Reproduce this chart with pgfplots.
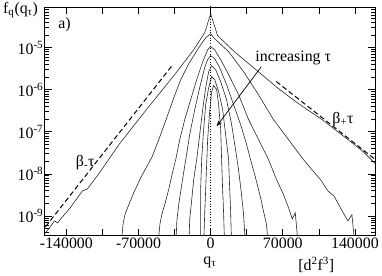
\documentclass[border=0pt]{standalone}
\usepackage{fontspec}
\setmainfont{Liberation Serif}
\usepackage{pgfplots}
\pgfplotsset{compat=1.18}
\usetikzlibrary{arrows.meta}
\begin{document}
\begin{tikzpicture}[font=\fontsize{16}{19}\selectfont]
\begin{axis}[
  name=ax,
  scale only axis, width=332bp, height=230bp,
  xmin=-161000, xmax=159500,
  ymode=log, ymin=3.37e-10, ymax=9.3e-5,
  scaled x ticks=false,
  xtick={-140000,-105000,-70000,-35000,0,35000,70000,105000,140000},
  xticklabels={-140000,,-70000,,0,,70000,,140000},
  ytick={1e-9,1e-8,1e-7,1e-6,1e-5},
  yticklabels={10\textsuperscript{-9},10\textsuperscript{-8},10\textsuperscript{-7},10\textsuperscript{-6},10\textsuperscript{-5}},
  minor ytick={4e-10,5e-10,6e-10,7e-10,8e-10,9e-10,
    2e-9,3e-9,4e-9,5e-9,6e-9,7e-9,8e-9,9e-9,
    2e-8,3e-8,4e-8,5e-8,6e-8,7e-8,8e-8,9e-8,
    2e-7,3e-7,4e-7,5e-7,6e-7,7e-7,8e-7,9e-7,
    2e-6,3e-6,4e-6,5e-6,6e-6,7e-6,8e-6,9e-6,
    2e-5,3e-5,4e-5,5e-5,6e-5,7e-5,8e-5,9e-5},
  tick align=inside,
  major tick length=7bp, minor tick length=4bp,
  axis line style={line width=0.8bp},
  every tick/.style={black, line width=0.6bp},
  clip mode=individual,
  xlabel={q\textsubscript{τ}},
  xlabel style={yshift=-1bp},
  xticklabel style={yshift=1bp},
  yticklabel style={xshift=2bp},
]
% outermost curve
\addplot[black!85, line width=0.6bp] coordinates {
(-163000,3.6e-10) (-160300,3.96e-10) (-156400,5.20e-10) (-151600,7.62e-10) (-148700,6.82e-10) (-143900,9.46e-10) (-137100,1.47e-9) (-129400,2.67e-9) (-124500,3.91e-9) (-119700,4.36e-9) (-108100,1.04e-8) (-88800,5.06e-8) (-59900,4.01e-7) (-35700,2.17e-6) (-16400,8.97e-6) (-5800,2.26e-5) (0,6.38e-5) (6800,1.92e-5) (24100,7.62e-6) (41500,3.37e-6) (65700,1.07e-6) (85000,4.72e-7) (109100,1.87e-7) (130300,7.41e-8) (147700,3.45e-8) (159300,1.79e-8) (162000,1.5e-8)};
\addplot[black!85, line width=0.6bp] coordinates {
(-86900,2e-10) (-85000,6.47e-10) (-83000,1.11e-9) (-79200,1.92e-9) (-74300,3.70e-9) (-67600,8.38e-9) (-57000,2.49e-8) (-50200,6.64e-8) (-42500,2.20e-7) (-35700,6.55e-7) (-29000,1.75e-6) (-21200,4.18e-6) (-11600,1.0e-5) (-4800,1.73e-5) (0,2.14e-5) (3900,1.63e-5) (17400,8.04e-6) (31900,2.70e-6) (46300,7.71e-7) (60800,1.98e-7) (75300,6.64e-8) (89800,2.23e-8) (99400,1.16e-8) (106200,7.52e-9) (113900,3.91e-9) (119700,2.97e-9) (126500,1.47e-9) (133200,7.62e-10) (137100,1.06e-9) (140000,2e-10)};
\addplot[black!85, line width=0.6bp] coordinates {
(-51200,2e-10) (-49200,6.47e-10) (-47300,1.11e-9) (-44400,1.92e-9) (-40600,4.36e-9) (-36700,1.16e-8) (-33800,2.23e-8) (-29900,6.64e-8) (-25100,1.98e-7) (-19300,5.87e-7) (-13500,1.75e-6) (-7700,4.67e-6) (-2900,8.97e-6) (0,1.06e-5) (3900,8.97e-6) (9700,5.20e-6) (17400,2.30e-6) (27000,7.71e-7) (36700,1.98e-7) (46300,6.64e-8) (56000,2.23e-8) (63700,7.52e-9) (70500,3.32e-9) (75300,1.63e-9) (79200,8.49e-10) (82100,1.18e-9) (85000,2e-10)};
\addplot[black!85, line width=0.6bp] coordinates {
(-33800,2e-10) (-32800,7.62e-10) (-30900,1.92e-9) (-28000,5.71e-9) (-24100,2.23e-8) (-20300,8.73e-8) (-15400,3.40e-7) (-10600,1.13e-6) (-5800,3.37e-6) (-2900,5.20e-6) (0,6.47e-6) (3900,5.50e-6) (8700,3.37e-6) (15400,1.33e-6) (22200,4.48e-7) (29000,1.50e-7) (34800,5.06e-8) (38600,2.23e-8) (43400,8.38e-9) (48300,2.82e-9) (51200,1.31e-9) (54100,6.47e-10) (56000,2e-10)};
\addplot[black!85, line width=0.6bp] coordinates {
(-21200,2e-10) (-20300,8.49e-10) (-18300,2.52e-9) (-16400,7.52e-9) (-13500,2.23e-8) (-10600,8.73e-8) (-7700,3.40e-7) (-4800,1.13e-6) (-1900,2.70e-6) (1000,3.75e-6) (4800,3.01e-6) (9700,1.57e-6) (15400,5.87e-7) (20300,1.50e-7) (24100,3.85e-8) (27000,1.29e-8) (29900,3.32e-9) (31900,1.11e-9) (33800,2e-10)};
\addplot[black!85, line width=0.6bp] coordinates {
(-9700,2e-10) (-9700,1.11e-9) (-9700,4.36e-9) (-8700,2.23e-8) (-6800,1.15e-7) (-4800,4.48e-7) (-1900,1.13e-6) (1000,2.06e-6) (3900,1.75e-6) (7700,9.08e-7) (11600,3.40e-7) (14500,8.73e-8) (17400,2.23e-8) (18300,5.71e-9) (19300,1.47e-9) (20300,2e-10)};
\addplot[black!85, line width=0.6bp] coordinates {
(-6800,2e-10) (-5800,1.11e-9) (-4800,4.36e-9) (-3900,1.70e-8) (-2900,6.64e-8) (-1000,3.05e-7) (1000,9.08e-7) (2900,1.26e-6) (5800,1.01e-6) (7700,4.48e-7) (9700,1.15e-7) (10600,2.23e-8) (11600,4.36e-9) (12600,1.11e-9) (13500,2e-10)};
% dashed guides
\addplot[black, line width=1bp, dash pattern=on 5bp off 3bp] coordinates {(-160300,5.50e-10) (-36700,3.96e-6)};
\addplot[black, line width=1bp, dash pattern=on 5bp off 3bp] coordinates {(63700,1.57e-6) (159300,2.23e-8)};
% dotted zero line
\addplot[black, line width=0.7bp, dotted] coordinates {(0,1e-10) (0,1e-4)};
\draw[-{Stealth[length=6bp,width=4bp]}, line width=0.7bp] (axis cs:49200,3.55e-6) -- (axis cs:5800,1.35e-7);
\node at (axis cs:80100,5.80e-6) {increasing τ};
\node at (axis cs:-121700,1.90e-8) {β\textsubscript{-}τ};
\node at (axis cs:128400,1.98e-7) {β\textsubscript{+}τ};
\node at (axis cs:-141900,3.50e-5) {a)};
\node[anchor=north west, inner sep=0pt, yshift=5bp, xshift=-42bp] at (rel axis cs:0,1) {f\textsubscript{q}(q\textsubscript{τ})};
\node at (rel axis cs:0.822,-0.126) {[d\textsuperscript{2}f\textsuperscript{3}]};
\end{axis}
\path ([xshift=-45bp,yshift=-37bp]ax.south west) rectangle ([xshift=5bp,yshift=7bp]ax.north east);
\end{tikzpicture}
\end{document}
